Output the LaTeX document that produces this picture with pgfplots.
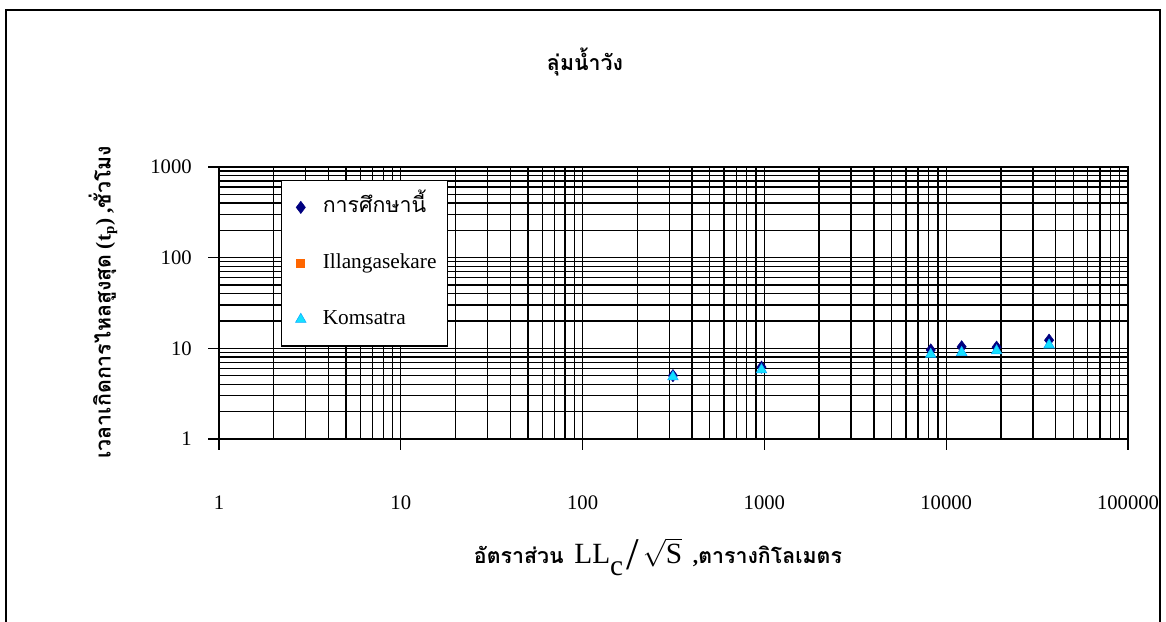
\documentclass[border=0pt]{standalone}
\usepackage{pgfplots}
\pgfplotsset{compat=1.18}
\usepackage{fontspec}
\setmainfont{Liberation Serif}
\newfontfamily\thaifont[Script=Thai]{Loma}
\definecolor{navyd}{RGB}{0,0,128}
\definecolor{orng}{RGB}{255,102,0}
\definecolor{cyn}{RGB}{20,225,255}
\begin{document}
\begin{tikzpicture}[x=0.75pt,y=-0.75pt]
\useasboundingbox (0,0) rectangle (1166,621);
\draw[line width=1.6pt] (6,640) -- (6,10) -- (1160,10) -- (1160,640);
\begin{axis}[
  at={(164.25pt,-329.25pt)}, anchor=south west,
  scale only axis, width=681.75pt, height=204pt,
  xmode=log, ymode=log,
  xmin=1, xmax=100000, ymin=1, ymax=1000,
  xtick={1,10,100,1000,10000,100000},
  xticklabels={1,10,100,1000,10000,100000},
  ytick={1,10,100,1000},
  yticklabels={1,10,100,1000},
  tick pos=left,
  grid=both,
  major grid style={black, line width=1pt},
  minor grid style={black, line width=1pt},
  axis line style={black, line width=1pt},
  major tick style={black, line width=1pt},
  major tick length=16pt,
  minor tick length=0pt,
  tick align=center,
  tick label style={font=\rmfamily\fontsize{15.5}{18}\selectfont},
  xticklabel style={anchor=center, yshift=-40pt},
  yticklabel style={anchor=east, xshift=-9pt},
  legend cell align=left,
  legend image code/.code={\path (0pt,0pt) (22pt,0pt); \draw[#1] plot coordinates {(8pt,0pt)};},
  legend style={at={(0.068,0.952)}, anchor=north west,
    draw=black, line width=1pt, fill=white,
    font=\rmfamily\fontsize{16}{19}\selectfont,
    row sep=22pt, inner xsep=6pt, inner ysep=10pt,
    nodes={inner sep=2pt, text height=12pt, text depth=4pt}},
]
\addplot[only marks, mark=diamond*, mark size=4.6pt, color=navyd, mark options={fill=navyd, line width=0.4pt}]
  coordinates {(314,5.0) (964,6.2) (8220,9.6) (12160,10.4) (18930,10.3) (36800,12.3)};
\addlegendentry{{\thaifont การศึกษานี้}}
\addlegendimage{only marks, mark=square*, mark size=3pt, color=orng}
\addlegendentry{{\rmfamily Illangasekare}}
\addplot[only marks, mark=triangle*, mark size=4.6pt, color=cyn, mark options={fill=cyn, draw=cyn!75!blue, line width=0.4pt}]
  coordinates {(314,4.85) (964,5.8) (8220,8.6) (12160,9.0) (18930,9.4) (36800,10.9)};
\addlegendentry{{\rmfamily Komsatra}}
\end{axis}
\node[font=\thaifont\bfseries\fontsize{16}{19}\selectfont] at (585,62) {ลุ่มน้ำวัง};
\node[font=\fontsize{16}{19}\selectfont] at (658,557)
  {{\thaifont\bfseries อัตราส่วน}\ \ {\fontsize{22}{24}\selectfont LL}\raisebox{-1.3ex}{\fontsize{22}{24}\selectfont c}\,{\fontsize{34}{34}\selectfont\raisebox{-0.3ex}{/}}\,{\fontsize{22}{24}\selectfont$\sqrt{\mbox{S}}$}\ \ {\bfseries ,}{\thaifont\bfseries ตารางกิโลเมตร}};
\node[rotate=90, font=\bfseries\fontsize{16}{19}\selectfont] at (103,302)
  {{\thaifont เวลาเกิดการไหลสูงสุด} (t\textsubscript{p}) ,{\thaifont ชั่วโมง}};
\end{tikzpicture}
\end{document}
